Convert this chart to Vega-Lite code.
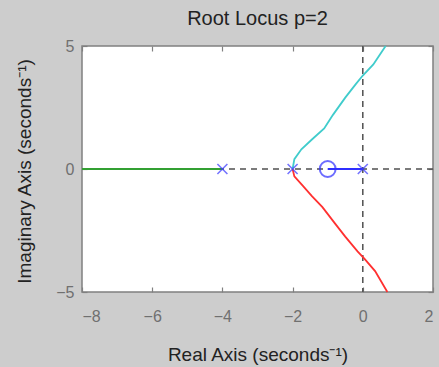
{
  "$schema": "https://vega.github.io/schema/vega-lite/v6.json",
  "autosize": "none",
  "width": 351,
  "height": 246,
  "padding": {"left": 82, "top": 46, "right": 6, "bottom": 75},
  "background": "#cdcdcd",
  "title": {"text": "Root Locus p=2", "font": "Liberation Sans", "fontSize": 20, "fontWeight": "normal", "color": "#222222", "baseline": "alphabetic", "offset": 19, "frame": "group", "anchor": "middle", "dy": 26},
  "config": {
    "view": {"fill": "white", "stroke": "#808080", "strokeWidth": 1.5},
    "axis": {"domain": false, "grid": false, "tickColor": "#808080", "tickWidth": 1.2, "labelColor": "#707070", "labelFont": "Liberation Sans", "labelFontSize": 16, "titleFont": "Liberation Sans", "titleFontSize": 19, "titleFontWeight": "normal", "titleColor": "#222222"}
  },
  "datasets": {
    "lines": [
      {"s": "green", "o": 1, "x": -8, "y": 0},
      {"s": "green", "o": 2, "x": -4, "y": 0},
      {"s": "blue", "o": 1, "x": -1, "y": 0},
      {"s": "blue", "o": 2, "x": 0, "y": 0},
      {"s": "cyan", "o": 1, "x": -2, "y": 0},
      {"s": "cyan", "o": 2, "x": -1.95, "y": 0.4},
      {"s": "cyan", "o": 3, "x": -1.75, "y": 0.8},
      {"s": "cyan", "o": 4, "x": -1.45, "y": 1.2},
      {"s": "cyan", "o": 5, "x": -1.1, "y": 1.65},
      {"s": "cyan", "o": 6, "x": -0.85, "y": 2.2},
      {"s": "cyan", "o": 7, "x": -0.5, "y": 2.9},
      {"s": "cyan", "o": 8, "x": -0.2, "y": 3.45},
      {"s": "cyan", "o": 9, "x": 0.0, "y": 3.8},
      {"s": "cyan", "o": 10, "x": 0.3, "y": 4.25},
      {"s": "cyan", "o": 11, "x": 0.65, "y": 5},
      {"s": "red", "o": 1, "x": -2, "y": 0},
      {"s": "red", "o": 2, "x": -1.95, "y": -0.3},
      {"s": "red", "o": 3, "x": -1.7, "y": -0.7},
      {"s": "red", "o": 4, "x": -1.45, "y": -1.1},
      {"s": "red", "o": 5, "x": -1.15, "y": -1.55},
      {"s": "red", "o": 6, "x": -0.8, "y": -2.2},
      {"s": "red", "o": 7, "x": -0.5, "y": -2.75},
      {"s": "red", "o": 8, "x": -0.15, "y": -3.35},
      {"s": "red", "o": 9, "x": 0.05, "y": -3.65},
      {"s": "red", "o": 10, "x": 0.35, "y": -4.15},
      {"s": "red", "o": 11, "x": 0.7, "y": -5}
    ],
    "poles": [{"x": 0, "y": 0}, {"x": -2, "y": 0}, {"x": -4, "y": 0}],
    "zeros": [{"x": -1, "y": 0}]
  },
  "layer": [
    {
      "layer": [
        {
          "data": {"values": [{"x": 0}]},
          "mark": {"type": "rule", "color": "#505050", "strokeDash": [6, 5], "strokeWidth": 1.5},
          "encoding": {
            "x": {"field": "x", "type": "quantitative", "scale": {"domain": [-8, 2], "nice": false, "zero": false},
              "axis": {"values": [-8, -6, -4, -2, 0, 2], "tickSize": -5, "labelPadding": 21, "labelDx": -3, "title": "Real Axis (seconds⁻¹)", "titleBaseline": "alphabetic", "titleY": 68}}
          }
        },
        {
          "data": {"values": [{"y": 0}]},
          "mark": {"type": "rule", "color": "#505050", "strokeDash": [6, 5], "strokeWidth": 1.5},
          "encoding": {
            "y": {"field": "y", "type": "quantitative", "scale": {"domain": [-5, 5], "nice": false, "zero": false},
              "axis": {"values": [-5, 0, 5], "tickSize": -5, "labelPadding": 13, "title": "Imaginary Axis (seconds⁻¹)", "titleBaseline": "alphabetic", "titleX": -52, "titleY": 125, "titleAngle": -90}}
          }
        },
        {
          "data": {"name": "lines"},
          "mark": {"type": "line", "strokeWidth": 1.8},
          "encoding": {
            "x": {"field": "x", "type": "quantitative"},
            "y": {"field": "y", "type": "quantitative"},
            "order": {"field": "o"},
            "color": {"field": "s", "type": "nominal", "legend": null,
              "scale": {"domain": ["green", "blue", "cyan", "red"], "range": ["#33a033", "#2f2fff", "#40cccc", "#ff3030"]}}
          }
        },
        {
          "data": {"name": "poles"},
          "mark": {"type": "point", "shape": "M-1,-1L1,1M-1,1L1,-1", "size": 100, "stroke": "#3a3aff", "strokeWidth": 1.6, "filled": false},
          "encoding": {
            "x": {"field": "x", "type": "quantitative"},
            "y": {"field": "y", "type": "quantitative"}
          }
        },
        {
          "data": {"name": "zeros"},
          "mark": {"type": "point", "shape": "circle", "size": 250, "stroke": "#2f2fff", "strokeWidth": 2, "filled": false},
          "encoding": {
            "x": {"field": "x", "type": "quantitative"},
            "y": {"field": "y", "type": "quantitative"}
          }
        }
      ]
    },
    {
      "data": {"values": [{"x": 0, "y": 0}]},
      "mark": {"type": "point", "opacity": 0},
      "encoding": {
        "x": {"field": "x", "type": "quantitative", "axis": {"orient": "top", "values": [-8, -6, -4, -2, 0, 2], "tickSize": -5, "labels": false, "title": null}},
        "y": {"field": "y", "type": "quantitative", "axis": {"orient": "right", "values": [-5, 0, 5], "tickSize": -5, "labels": false, "title": null}}
      }
    }
  ],
  "resolve": {"axis": {"x": "independent", "y": "independent"}}
}
